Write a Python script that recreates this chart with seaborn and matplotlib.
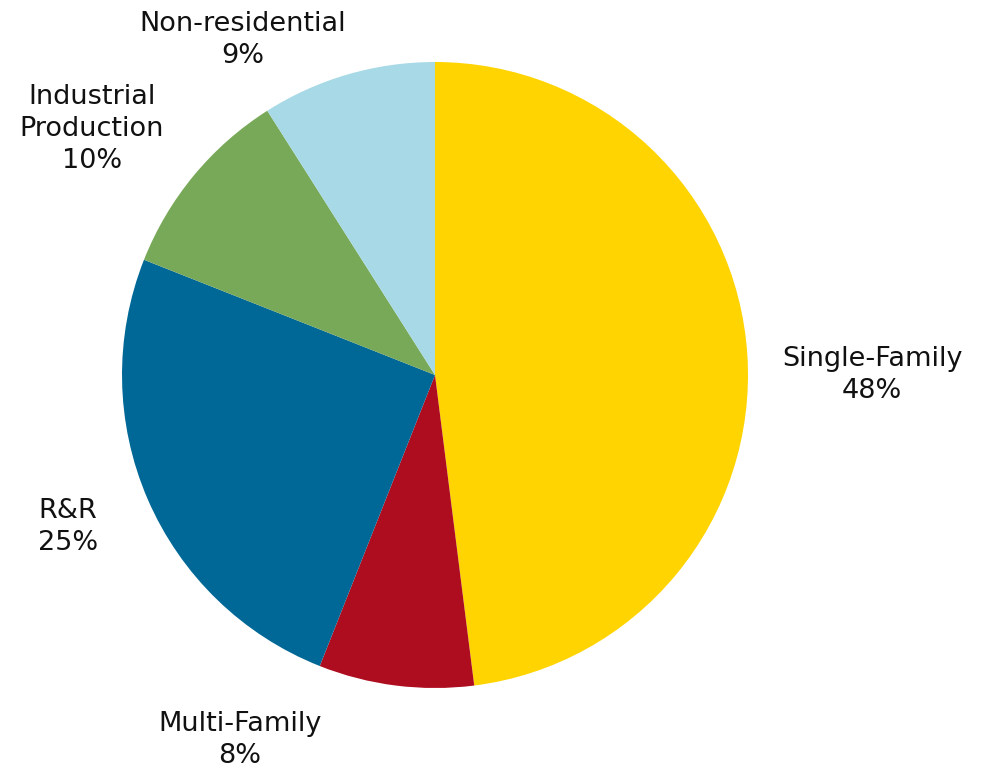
import matplotlib
matplotlib.use("Agg")
import matplotlib.pyplot as plt
import seaborn as sns

# Segment shares (percent), ordered clockwise from 12 o'clock
categories = ["Single-Family", "Multi-Family", "R&R", "Industrial\nProduction", "Non-residential"]
shares = [48, 8, 25, 10, 9]
colors = ["#FFD400", "#AE0C1F", "#006896", "#78A958", "#A8D9E6"]

# Label anchors in pie-radius units
label_pos = [(1.397, 0.0), (-0.623, -1.166), (-1.173, -0.486), (-1.096, 0.786), (-0.613, 1.070)]

sns.set_theme(style="white")
plt.rcParams["font.family"] = ["DejaVu Sans"]

fig = plt.figure(figsize=(9.84, 7.75), dpi=100)
ax = fig.add_axes([0, 0, 1, 1])

ax.pie(shares, colors=colors, startangle=90, counterclock=False,
       radius=1.0, center=(0, 0), wedgeprops=dict(linewidth=0))

for name, val, (x, y) in zip(categories, shares, label_pos):
    ax.text(x, y, f"{name}\n{val}%", ha="center", va="center",
            fontsize=19.5, color="#111111", linespacing=1.3)

ax.set_xlim(-435 / 313, (984 - 435) / 313)
ax.set_ylim(-(775 - 375) / 313, 375 / 313)
ax.set_aspect("equal")
ax.axis("off")

fig.savefig("out.png", dpi=100)
